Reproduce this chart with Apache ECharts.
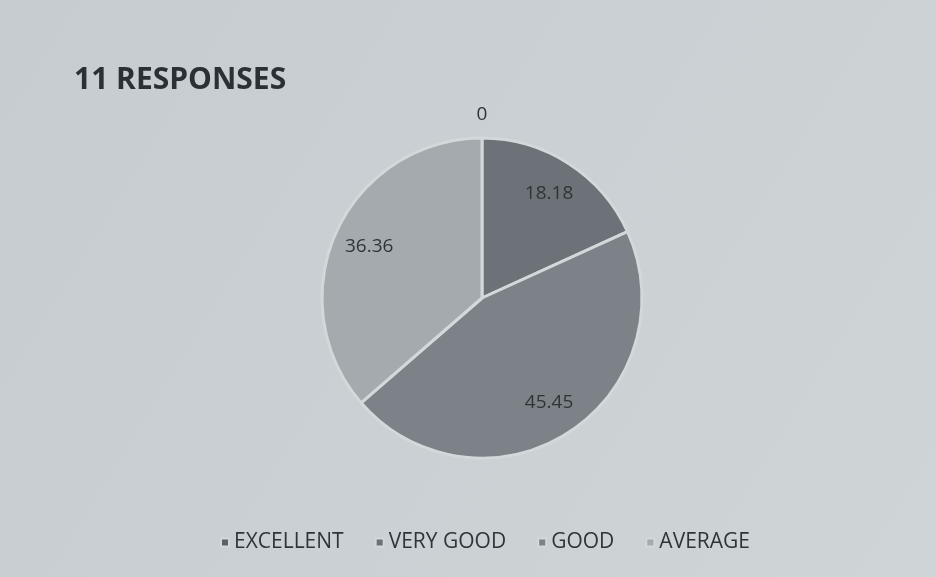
<!DOCTYPE html>
<html><head><meta charset="utf-8">
<script src="https://cdn.jsdelivr.net/npm/echarts@6/dist/echarts.min.js"></script>
<style>html,body{margin:0;padding:0;background:#c9cfd3}#c{width:936px;height:577px}</style>
</head><body><div id="c"></div>
<script>
const categories = ['EXCELLENT', 'VERY GOOD', 'GOOD', 'AVERAGE'];
const values = [0, 18.18, 45.45, 36.36];
const colors = ['#5c6267', '#6c7277', '#7c8287', '#a4aaae'];

const data = categories.map((n, i) => ({ name: n, value: values[i], itemStyle: { color: colors[i] } }));
const chart = echarts.init(document.getElementById('c'));
const font = '"Open Sans", "Liberation Sans", sans-serif';
const labelStyle = { fontFamily: font, fontSize: 19, color: '#2e3538' };
chart.setOption({
  backgroundColor: {
    type: 'linear', x: 0, y: 0, x2: 1, y2: 1,
    colorStops: [{ offset: 0, color: '#c6ccd0' }, { offset: 1, color: '#cfd4d7' }]
  },
  animation: false,
  title: {
    text: '11 RESPONSES', left: 69, top: 60,
    textStyle: { fontFamily: font, fontWeight: 'bold', fontSize: 30, color: '#2a3135' }
  },
  legend: {
    bottom: 19, left: 215, itemGap: 31, itemWidth: 8, itemHeight: 8, icon: 'rect',
    textStyle: { fontFamily: font, fontSize: 21, color: '#2e3538' },
    data: categories
  },
  series: [
    {
      type: 'pie', center: [482, 298], radius: [0, 160], startAngle: 90, clockwise: true,
      data: data,
      itemStyle: { borderColor: '#d3d8da', borderWidth: 3 },
      label: { show: false },
      labelLine: { show: false }
    },
    {
      type: 'pie', center: [482, 298], radius: [0, 242], startAngle: 90, clockwise: true,
      silent: true, legendHoverLink: false,
      data: data.map(d => ({ name: d.name, value: d.value })),
      itemStyle: { color: 'rgba(0,0,0,0)', borderWidth: 0 },
      label: Object.assign({ show: true, position: 'inside',
        formatter: p => p.value === 0 ? '' : String(p.value) }, labelStyle),
      labelLine: { show: false }
    },
    {
      type: 'pie', center: [482, 298], radius: [0, 360], startAngle: 90, clockwise: true,
      silent: true, legendHoverLink: false,
      data: data.map(d => ({ name: d.name, value: d.value })),
      itemStyle: { color: 'rgba(0,0,0,0)', borderWidth: 0 },
      label: Object.assign({ show: true, position: 'inside',
        formatter: p => p.value === 0 ? String(p.value) : '' }, labelStyle),
      labelLine: { show: false }
    }
  ]
});
</script></body></html>
